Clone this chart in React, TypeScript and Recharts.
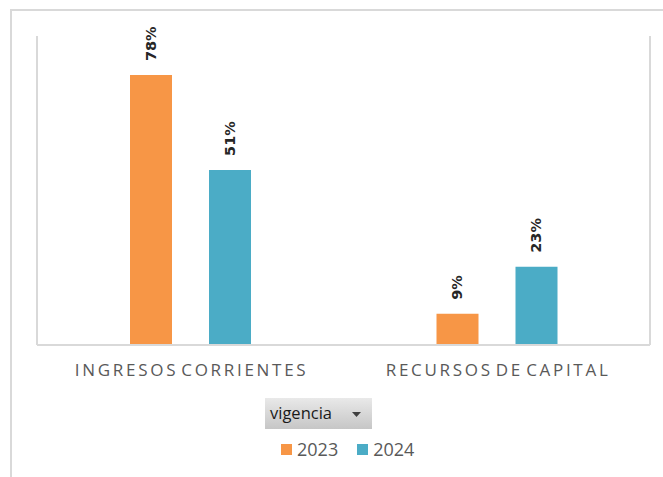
import React from 'react';
import { BarChart, Bar, XAxis, YAxis, ReferenceLine, LabelList } from 'recharts';

// Valores (fracción)
const categories = ['INGRESOS CORRIENTES', 'RECURSOS DE CAPITAL'];
const vigencia2023 = [0.78, 0.09];
const vigencia2024 = [0.506, 0.226];
const seriesNames = ['2023', '2024'];
const seriesColors = ['#F79646', '#4BACC6'];
const gridLines = [0, 1, 2];

const data = categories.map((name, i) => ({
  name,
  v2023: vigencia2023[i],
  v2024: vigencia2024[i]
}));

const GRID = '#D9D9D9';
const SPACING = 2.7;

const BarValueLabel = (props: any) => {
  const { x, y, width, value } = props;
  const cx = x + width / 2;
  const ty = y - 14;
  return (
    <text
      x={cx}
      y={ty}
      transform={`rotate(-90 ${cx} ${ty})`}
      textAnchor="start"
      dominantBaseline="central"
      fontFamily="'DejaVu Sans', sans-serif"
      fontWeight="bold"
      fontSize={14.5}
      fill="#262626"
    >
      {`${Math.round(value * 100)}%`}
    </text>
  );
};

const CategoryTick = (props: any) => {
  const { x, y, payload } = props;
  return (
    <text
      x={x + SPACING / 2}
      y={y + 29}
      textAnchor="middle"
      fontFamily="'Open Sans', sans-serif"
      fontSize={17}
      letterSpacing={SPACING}
      wordSpacing={-4}
      fill="#595959"
    >
      {payload.value}
    </text>
  );
};

const App: React.FC = () => {
  return (
    <div
      style={{
        position: 'absolute',
        left: 0,
        top: 0,
        width: 663,
        height: 477,
        overflow: 'hidden',
        background: '#FFFFFF'
      }}
    >
      <div
        style={{
          position: 'absolute',
          left: 10,
          top: 9,
          width: 700,
          height: 520,
          borderTop: `2px solid ${GRID}`,
          borderLeft: `2px solid ${GRID}`
        }}
      />
      <BarChart
        width={663}
        height={477}
        data={data}
        margin={{ top: 36, right: 13, left: 37, bottom: 92 }}
        barSize={42}
        barGap={37}
        style={{ position: 'absolute', left: 0, top: 0 }}
      >
        <XAxis
          dataKey="name"
          height={40}
          tickLine={false}
          tickSize={0}
          axisLine={{ stroke: GRID, strokeWidth: 2 }}
          tick={<CategoryTick />}
          interval={0}
        />
        <XAxis xAxisId="grid" type="number" domain={[0, 2]} hide />
        <YAxis hide domain={[0, 0.893]} />
        {gridLines.map((g) => (
          <ReferenceLine key={g} xAxisId="grid" x={g} stroke={GRID} strokeWidth={2} />
        ))}
        <Bar dataKey="v2023" name={seriesNames[0]} fill={seriesColors[0]} isAnimationActive={false}>
          <LabelList dataKey="v2023" content={<BarValueLabel />} />
        </Bar>
        <Bar dataKey="v2024" name={seriesNames[1]} fill={seriesColors[1]} isAnimationActive={false}>
          <LabelList dataKey="v2024" content={<BarValueLabel />} />
        </Bar>
      </BarChart>

      {/* botón de campo y leyenda */}
      <div
        style={{
          position: 'absolute',
          left: 265,
          top: 398,
          width: 107,
          height: 31,
          background: 'linear-gradient(#E9E9E9, #C6C6C6)',
          fontFamily: "'Open Sans', sans-serif",
          fontSize: 16.5,
          color: '#1A1A1A'
        }}
      >
        <span style={{ position: 'absolute', left: 5, top: 3 }}>vigencia</span>
        <svg width={9} height={5} style={{ position: 'absolute', left: 87, top: 14 }}>
          <polygon points="0,0 9,0 4.5,5" fill="#404040" />
        </svg>
      </div>
      <div
        style={{
          position: 'absolute',
          left: 281,
          top: 437,
          display: 'flex',
          alignItems: 'center',
          fontFamily: "'Open Sans', sans-serif",
          fontSize: 18,
          color: '#595959'
        }}
      >
        {seriesNames.map((n, i) => (
          <div key={n} style={{ display: 'flex', alignItems: 'center', marginRight: 19 }}>
            <span
              style={{ width: 11, height: 11, background: seriesColors[i], display: 'inline-block', marginRight: 5 }}
            />
            <span>{n}</span>
          </div>
        ))}
      </div>
    </div>
  );
};

export default App;
